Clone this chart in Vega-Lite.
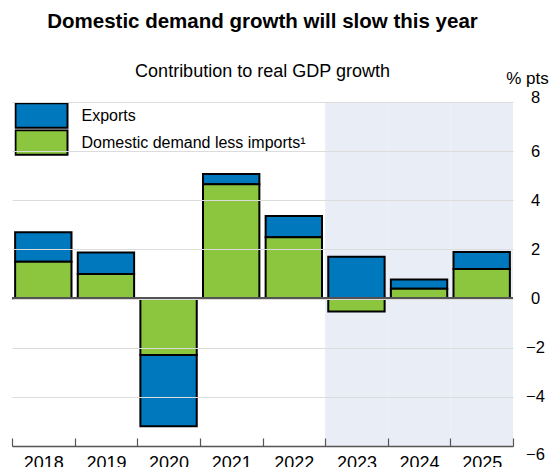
{
  "$schema": "https://vega.github.io/schema/vega-lite/v6.json",
  "width": 501,
  "height": 344,
  "autosize": "none",
  "padding": {"left": 12, "top": 102, "right": 40, "bottom": 21},
  "background": "white",
  "title": {
    "text": "Domestic demand growth will slow this year",
    "subtitle": "Contribution to real GDP growth",
    "font": "Liberation Sans",
    "fontSize": 20.5,
    "fontWeight": "bold",
    "color": "black",
    "subtitleFont": "Liberation Sans",
    "subtitleFontSize": 18,
    "subtitleColor": "black",
    "subtitlePadding": 30,
    "anchor": "middle",
    "offset": -11.5
  },
  "config": {
    "view": {"stroke": null},
    "font": "Liberation Sans"
  },
  "data": {
    "values": [
      {"year": 2018, "series": "Exports", "value": 1.2},
      {"year": 2018, "series": "Domestic demand less imports¹", "value": 1.5},
      {"year": 2019, "series": "Exports", "value": 0.87},
      {"year": 2019, "series": "Domestic demand less imports¹", "value": 1.0},
      {"year": 2020, "series": "Exports", "value": -2.9},
      {"year": 2020, "series": "Domestic demand less imports¹", "value": -2.3},
      {"year": 2021, "series": "Exports", "value": 0.42},
      {"year": 2021, "series": "Domestic demand less imports¹", "value": 4.65},
      {"year": 2022, "series": "Exports", "value": 0.86},
      {"year": 2022, "series": "Domestic demand less imports¹", "value": 2.5},
      {"year": 2023, "series": "Exports", "value": 1.7},
      {"year": 2023, "series": "Domestic demand less imports¹", "value": -0.53},
      {"year": 2024, "series": "Exports", "value": 0.38},
      {"year": 2024, "series": "Domestic demand less imports¹", "value": 0.4},
      {"year": 2025, "series": "Exports", "value": 0.7},
      {"year": 2025, "series": "Domestic demand less imports¹", "value": 1.2}
    ]
  },
  "layer": [
    {
      "transform": [{"filter": "datum.series == 'Exports' && datum.year >= 2023"}],
      "mark": {"type": "rect", "color": "#e9edf6"},
      "encoding": {
        "x": {
          "field": "year", "type": "ordinal",
          "scale": {"paddingInner": 0, "paddingOuter": 0},
          "axis": {"title": null, "orient": "bottom", "labelAngle": 0, "labelFontSize": 18, "labelColor": "black", "labelPadding": 16.5, "tickBand": "extent", "tickSize": -8, "tickColor": "#555555", "tickWidth": 1.2, "domainColor": "#555555", "domainWidth": 1.5, "grid": false, "labelFlush": false, "zindex": 1}
        },
        "y": {
          "datum": 8, "type": "quantitative",
          "scale": {"domain": [-6, 8], "nice": false},
          "axis": {"title": "% pts", "orient": "right", "values": [-6, -4, -2, 0, 2, 4, 6, 8], "grid": true, "gridColor": "#dcdcdc", "gridWidth": 1, "domain": false, "ticks": false, "labelAlign": "center", "labelBaseline": {"condition": [{"test": "datum.value == 8", "value": "alphabetic"}, {"test": "datum.value == -6", "value": "top"}], "value": "middle"}, "labelPadding": 22, "labelFontSize": 16.5, "labelColor": "black", "labelFlush": false, "titleAngle": 0, "titleX": 14, "titleY": -19, "titleAlign": "center", "titleBaseline": "alphabetic", "titleFontWeight": "normal", "titleFontSize": 17, "titleColor": "black", "zindex": 1}
        },
        "y2": {"datum": -6}
      }
    },
    {
      "mark": {"type": "bar", "stroke": "black", "strokeWidth": 2, "width": {"band": 0.9}},
      "encoding": {
        "x": {
          "field": "year", "type": "ordinal",
          "scale": {"paddingInner": 0, "paddingOuter": 0},
          "axis": {"title": null, "orient": "bottom", "labelAngle": 0, "labelFontSize": 18, "labelColor": "black", "labelPadding": 16.5, "tickBand": "extent", "tickSize": -8, "tickColor": "#555555", "tickWidth": 1.2, "domainColor": "#555555", "domainWidth": 1.5, "grid": false, "labelFlush": false, "zindex": 1}
        },
        "y": {
          "field": "value", "type": "quantitative", "stack": "zero",
          "scale": {"domain": [-6, 8], "nice": false},
          "axis": {"title": "% pts", "orient": "right", "values": [-6, -4, -2, 0, 2, 4, 6, 8], "grid": true, "gridColor": "#dcdcdc", "gridWidth": 1, "domain": false, "ticks": false, "labelAlign": "center", "labelBaseline": {"condition": [{"test": "datum.value == 8", "value": "alphabetic"}, {"test": "datum.value == -6", "value": "top"}], "value": "middle"}, "labelPadding": 22, "labelFontSize": 16.5, "labelColor": "black", "labelFlush": false, "titleAngle": 0, "titleX": 14, "titleY": -19, "titleAlign": "center", "titleBaseline": "alphabetic", "titleFontWeight": "normal", "titleFontSize": 17, "titleColor": "black", "zindex": 1}
        },
        "color": {
          "field": "series", "type": "nominal",
          "scale": {"domain": ["Exports", "Domestic demand less imports¹"], "range": ["#0078be", "#8cc63f"]},
          "legend": {
            "title": null, "orient": "none", "legendX": 2.5, "legendY": 0.2, "padding": 0,
            "symbolType": "M-1,-0.47H1V0.47H-1Z", "symbolSize": 2704,
            "symbolStrokeColor": "black", "symbolStrokeWidth": 2, "symbolOpacity": 1,
            "clipHeight": 26.7, "rowPadding": 0, "labelOffset": 13,
            "labelFontSize": 16, "labelColor": "black", "labelLimit": 400
          }
        },
        "order": {"field": "series", "sort": "ascending"}
      }
    },
    {
      "mark": {"type": "rule", "color": "#555555", "strokeWidth": 1.5},
      "encoding": {"y": {"datum": 0, "type": "quantitative"}}
    }
  ]
}
